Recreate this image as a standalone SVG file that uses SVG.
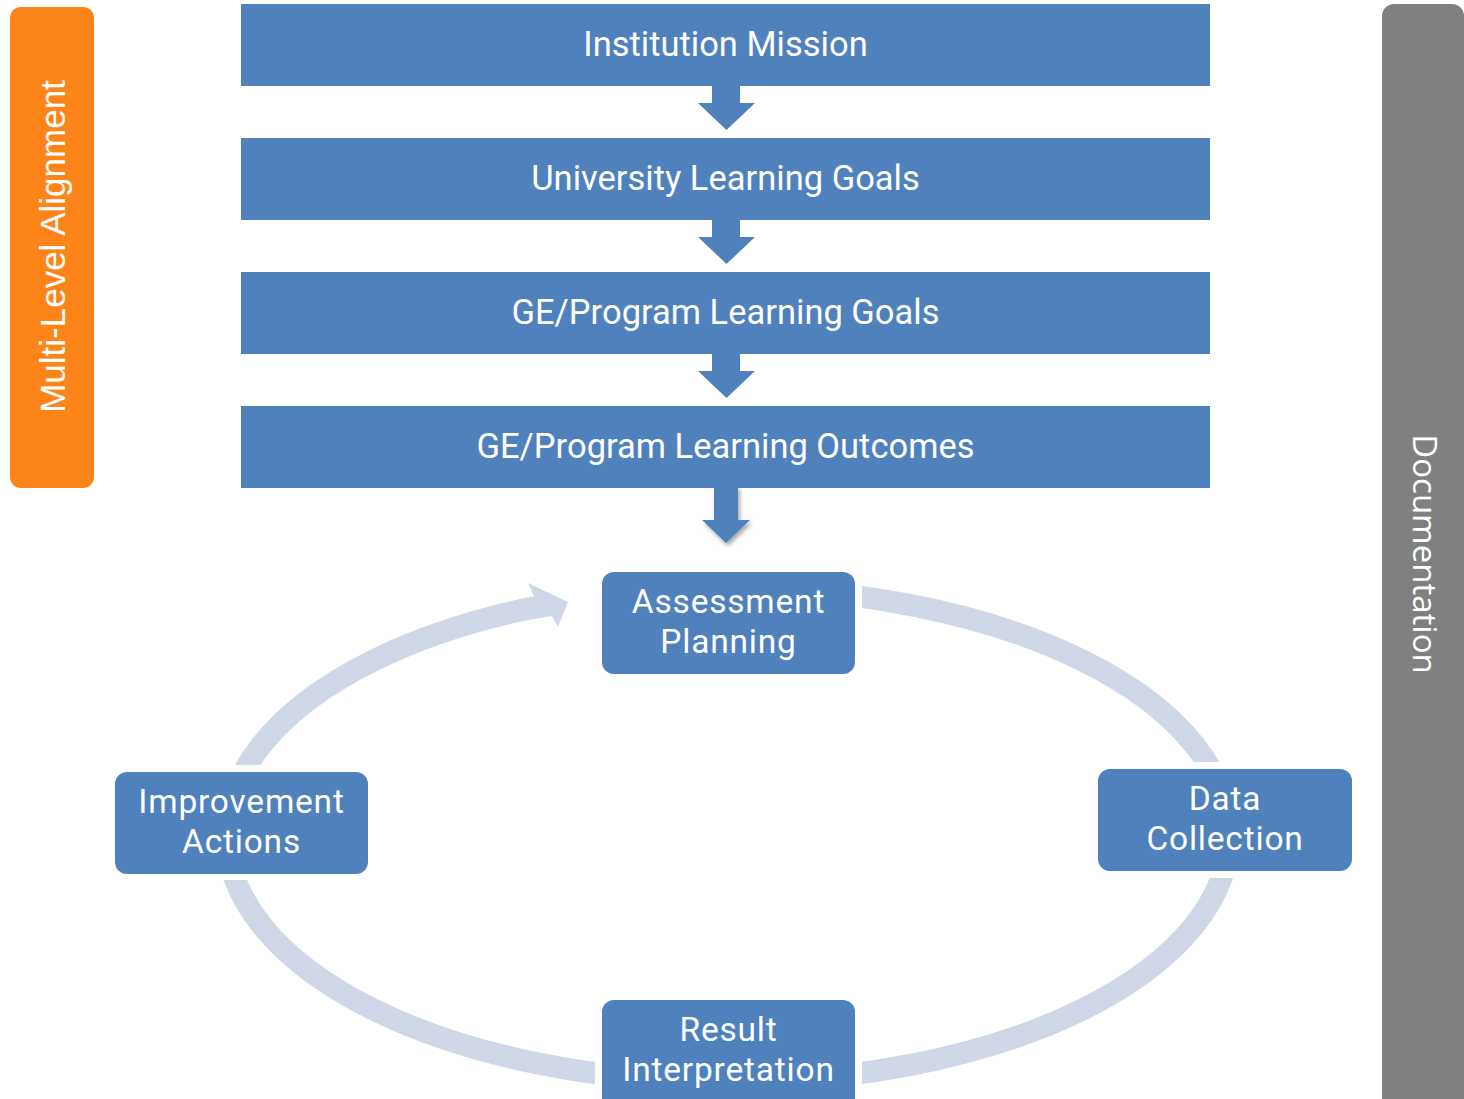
<svg xmlns="http://www.w3.org/2000/svg" width="1464" height="1099" viewBox="0 0 1464 1099">
<style>
.bar{fill:#4F81BD}
.node{fill:#4F81BD}
.t{font-family:Roboto,"Open Sans",sans-serif;font-size:34.5px;fill:#FFFFFF;text-anchor:middle}
.n{font-family:Roboto,"Open Sans",sans-serif;font-size:33.5px;letter-spacing:0.8px;fill:#FFFFFF;text-anchor:middle}
.arrow{fill:#4F81BD}
.cyc{fill:none;stroke:#D0D8E8;stroke-width:22}
</style>
<defs>
<filter id="sh" x="-30%" y="-30%" width="160%" height="160%">
<feDropShadow dx="2" dy="3" stdDeviation="2" flood-color="#000" flood-opacity="0.35"/>
</filter>
<mask id="cm">
<rect x="0" y="0" width="1464" height="1099" fill="#fff"/>
<rect x="595" y="565" width="267" height="116" fill="#000"/>
<rect x="1091" y="762" width="268" height="116" fill="#000"/>
<rect x="595" y="993" width="267" height="120" fill="#000"/>
<rect x="108" y="765" width="267" height="115" fill="#000"/>
<rect x="528" y="560" width="74" height="70" fill="#000"/>
</mask>
</defs>
<rect width="1464" height="1099" fill="#FFFFFF"/>

<g id="side-left">
<rect x="10" y="7" width="84" height="481" rx="11" fill="#FD8418"/>
<text transform="translate(65,246.5) rotate(-90)" font-family="'Liberation Sans',Arial,sans-serif" font-size="35" fill="#FFFFFF" text-anchor="middle">Multi-Level Alignment</text>
</g>
<g id="side-right">
<rect x="1382" y="4" width="82" height="1110" rx="12" fill="#808080"/>
<text transform="translate(1413,554) rotate(90)" font-family="'Open Sans','Noto Sans',sans-serif" font-size="33" fill="#FFFFFF" text-anchor="middle">Documentation</text>
</g>

<g id="connectors">
<ellipse class="cyc" cx="728" cy="835" rx="501" ry="247" mask="url(#cm)"/>
<polygon fill="#D0D8E8" points="518,599.7 534,596.5 528,583 568,602 558,627 552,616 518,621.7"/>
<polygon class="arrow" points="712,80 740,80 740,103 755,103 726.5,130 698,103 712,103"/>
<polygon class="arrow" points="712,214 740,214 740,237 755,237 726.5,264 698,237 712,237"/>
<polygon class="arrow" points="712,348 740,348 740,371 755,371 726.5,398 698,371 712,371"/>
<polygon class="arrow" filter="url(#sh)" points="714,486 738,486 738,520 750,520 726,543 702,520 714,520"/>
</g>

<g id="bar1"><rect class="bar" x="241" y="4" width="969" height="82"/><text class="t" x="725.5" y="56">Institution Mission</text></g>
<g id="bar2"><rect class="bar" x="241" y="138" width="969" height="82"/><text class="t" x="725.5" y="190">University Learning Goals</text></g>
<g id="bar3"><rect class="bar" x="241" y="272" width="969" height="82"/><text class="t" x="725.5" y="324">GE/Program Learning Goals</text></g>
<g id="bar4"><rect class="bar" x="241" y="406" width="969" height="82"/><text class="t" x="725.5" y="458">GE/Program Learning Outcomes</text></g>

<g id="assessment"><rect class="node" x="602" y="572" width="253" height="102" rx="12"/><text class="n"><tspan x="728.5" y="613">Assessment</tspan><tspan x="728.5" y="653">Planning</tspan></text></g>
<g id="data"><rect class="node" x="1098" y="769" width="254" height="102" rx="12"/><text class="n"><tspan x="1225" y="810">Data</tspan><tspan x="1225" y="850">Collection</tspan></text></g>
<g id="result"><rect class="node" x="602" y="1000" width="253" height="110" rx="12"/><text class="n"><tspan x="728.5" y="1041">Result</tspan><tspan x="728.5" y="1081">Interpretation</tspan></text></g>
<g id="improvement"><rect class="node" x="115" y="772" width="253" height="102" rx="12"/><text class="n"><tspan x="241.5" y="813">Improvement</tspan><tspan x="241.5" y="853">Actions</tspan></text></g>
</svg>
